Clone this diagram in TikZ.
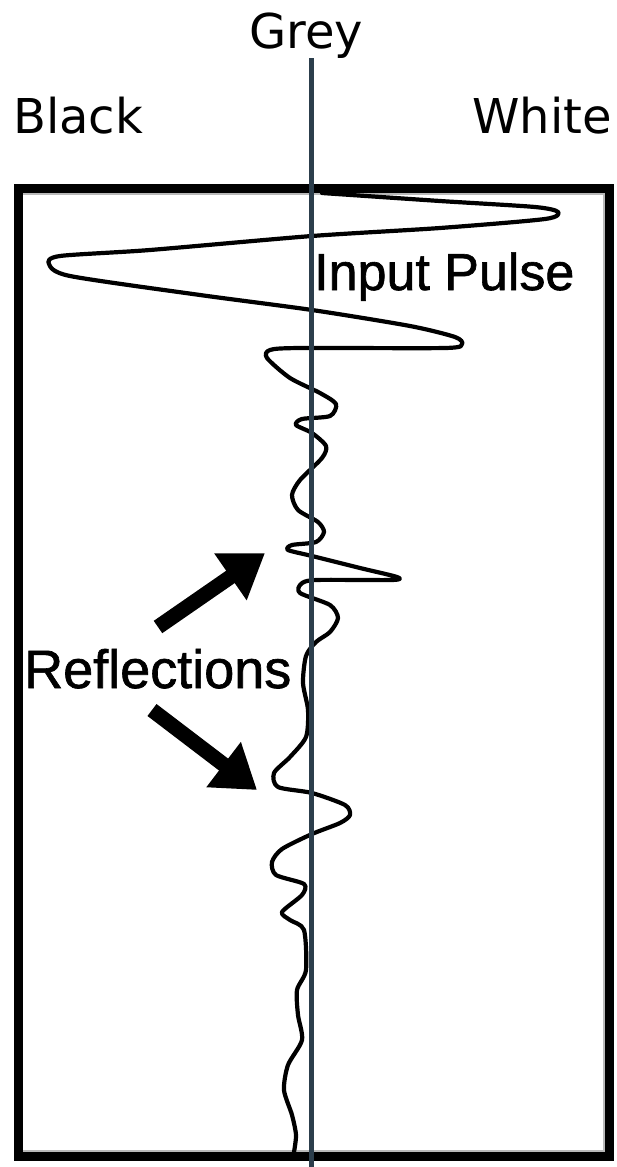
\documentclass[tikz,border=0pt]{standalone}
\usepackage{fontspec}
\setmainfont{DejaVu Sans}
\newfontfamily\helv[FakeBold=1.2]{Liberation Sans}
\usetikzlibrary{arrows.meta}
\definecolor{slate}{RGB}{44,62,76}
\tikzset{
  topl/.style={inner sep=0pt, font=\fontsize{48}{52}\selectfont},
  inlab/.style={inner sep=0pt, font=\helv\fontsize{52}{56}\selectfont},
  boxline/.style={line width=9pt, draw=black},
  wave/.style={line width=4.2pt, line join=round, line cap=round},
  fatarrow/.style={line width=15pt, -{Triangle[length=42pt,width=54pt]}},
  axis/.style={line width=5pt, draw=slate}
}
\begin{document}
\begin{tikzpicture}[x=1pt,y=-1pt]
\useasboundingbox (0,0) rectangle (616,1167);
% box
\draw[gray!55, line width=2pt] (23,194) -- (604,194) -- (604,1151) -- (23,1151);
\draw[boxline] (18,188) rectangle (609,1156);
% signal trace
\draw[wave] plot[smooth, tension=0.45] coordinates {
 (322,193) (440,201) (535,207) (558,212) (545,219) (440,228) (312,236)
 (150,250) (60,256) (49,264) (70,276) (200,295) (312,310) (410,326)
 (455,337) (462,344) (445,348) (300,348) (270,350) (267,358) (290,378)
 (320,393) (336,404) (330,416) (302,419) (296,425) (312,433) (326,446)
 (322,458) (300,480) (292,495) (298,510) (318,522) (324,532) (316,542)
 (292,545) (288,550) (312,556) (360,568) (397,577) (392,580) (316,580)
 (301,584) (300,593) (330,605) (338,618) (330,632) (316,642) (306,656)
 (303,683) (308,710) (306,737) (290,757) (274,773) (278,787) (312,793)
 (345,805) (350,815) (340,823) (312,834) (282,849) (272,862) (276,875)
 (304,884) (302,895) (282,912) (290,920) (304,930) (306,970) (297,990)
 (298,1015) (302,1040) (288,1065) (284,1090) (292,1115) (296,1135) (294,1152)};
% arrows
\coordinate (a1s) at (158,627); \coordinate (a1e) at (265,553);
\coordinate (a2s) at (152,710); \coordinate (a2e) at (257,790);
\draw[fatarrow] (a1s) -- (a1e);
\draw[fatarrow] (a2s) -- (a2e);
% labels
\node[topl, anchor=base] (grey) at (306,48) {Grey};
\node[topl, anchor=base west] (black) at (13,133) {Black};
\node[topl, anchor=base east] (white) at (612,133) {White};
\node[inlab, anchor=base west] (pulse) at (314,290) {Input Pulse};
\node[inlab, anchor=base west, font=\helv\fontsize{54}{58}\selectfont] (refl) at (24,688) {Reflections};
% grey axis line
\coordinate (gtop) at (311,58); \coordinate (gbot) at (311,1167);
\draw[axis] (gtop) -- (gbot);
\end{tikzpicture}
\end{document}
